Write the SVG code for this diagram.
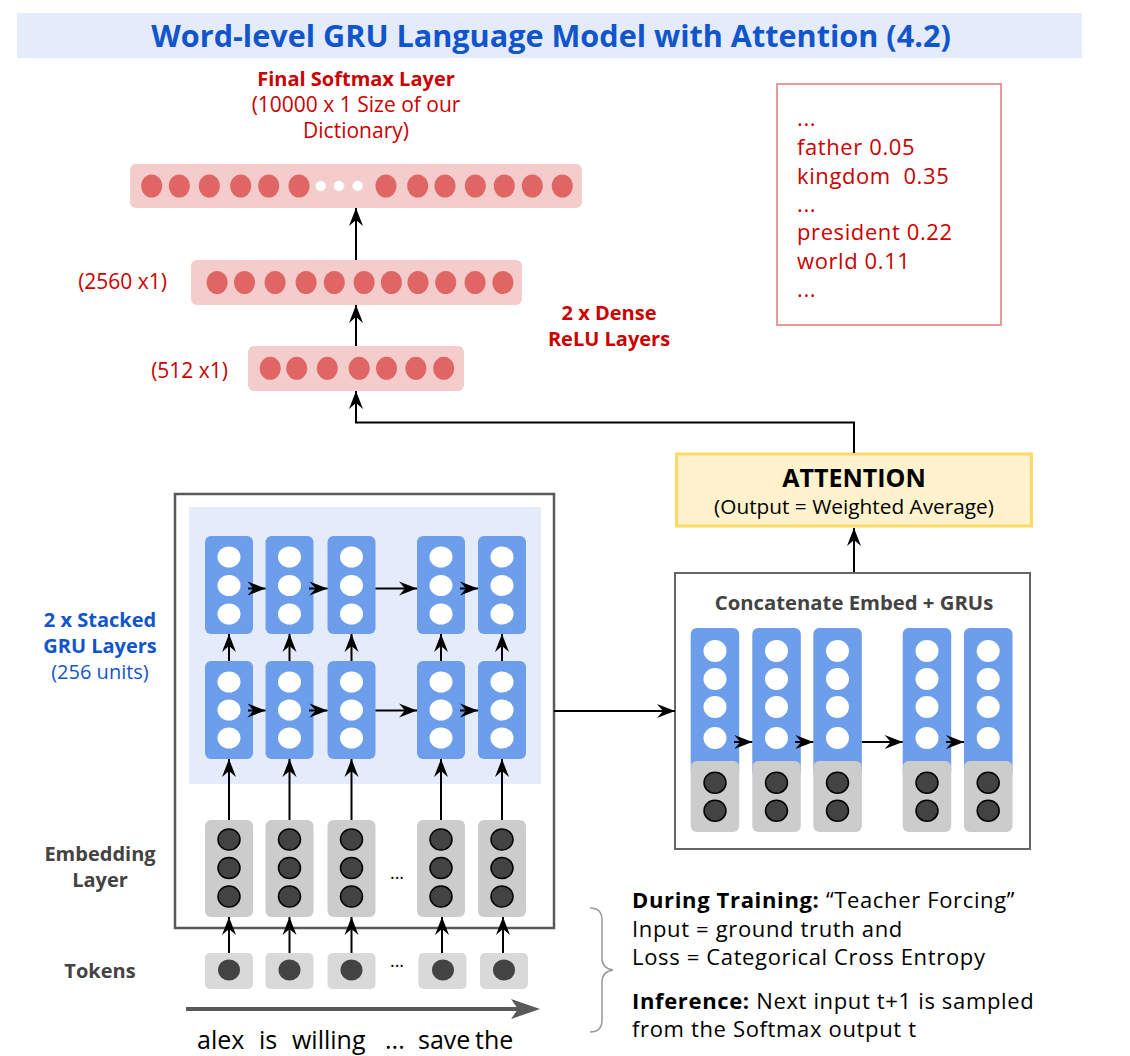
<svg xmlns="http://www.w3.org/2000/svg" width="1130" height="1056" viewBox="0 0 1130 1056">
<defs>
<style>
text{font-family:'Open Sans','Liberation Sans',sans-serif}
.red{fill:#cc0000}
.blue{fill:#1155cc}
.grey{fill:#434343}
.b{font-weight:bold}
.s20{font-size:20px}
.s21{font-size:21px}
.mid{text-anchor:middle}
.sm{fill:#e06666}
.smbg{fill:#f4cccc}
.gru{fill:#6d9eeb}
.wc{fill:#ffffff}
.emb{fill:#cccccc}
.tok{fill:#d9d9d9}
.dc{fill:#434343;stroke:#000;stroke-width:1.5}
.tc{fill:#434343}
.conn line,.conn polyline{stroke:#000;stroke-width:2;fill:none;marker-end:url(#ah)}
</style>
<marker id="ah" viewBox="-19 -8 20 16" refX="0" refY="0" markerWidth="20" markerHeight="16" orient="auto" markerUnits="userSpaceOnUse">
<path d="M0,0 L-18,-7 L-12,0 L-18,7 Z" fill="#000"/>
</marker>
</defs>
<rect width="1130" height="1056" fill="#ffffff"/>

<g id="title">
<rect x="17" y="13" width="1065" height="45" fill="#e4ecfc"/>
<text x="551" y="47" class="blue b mid" font-size="30.6">Word-level GRU Language Model with Attention (4.2)</text>
</g>

<g id="softmax-layer">
<text x="356" y="86" class="red b mid s20">Final Softmax Layer</text>
<text x="356" y="112" class="red mid s21">(10000 x 1 Size of our</text>
<text x="356" y="138" class="red mid s21">Dictionary)</text>
<rect x="130" y="164" width="452" height="44" rx="6" class="smbg"/>
<g class="sm">
<ellipse cx="151.7" cy="186" rx="10.5" ry="11.5"/>
<ellipse cx="179.3" cy="186" rx="10.5" ry="11.5"/>
<ellipse cx="209.3" cy="186" rx="10.5" ry="11.5"/>
<ellipse cx="240.7" cy="186" rx="10.5" ry="11.5"/>
<ellipse cx="268.7" cy="186" rx="10.5" ry="11.5"/>
<ellipse cx="299" cy="186" rx="10.5" ry="11.5"/>
<ellipse cx="386" cy="186" rx="10.5" ry="11.5"/>
<ellipse cx="417.7" cy="186" rx="10.5" ry="11.5"/>
<ellipse cx="445" cy="186" rx="10.5" ry="11.5"/>
<ellipse cx="475.3" cy="186" rx="10.5" ry="11.5"/>
<ellipse cx="504.3" cy="186" rx="10.5" ry="11.5"/>
<ellipse cx="532.3" cy="186" rx="10.5" ry="11.5"/>
<ellipse cx="562.3" cy="186" rx="10.5" ry="11.5"/>
</g>
<g fill="#ffffff" stroke="#f0f0f0" stroke-width="1">
<circle cx="320.7" cy="186" r="5"/>
<circle cx="339" cy="186" r="5"/>
<circle cx="357.7" cy="186" r="5"/>
</g>
</g>

<g id="dense-2560">
<text x="167" y="289" class="red s21" text-anchor="end">(2560 x1)</text>
<rect x="191" y="260" width="331" height="45" rx="6" class="smbg"/>
<g class="sm">
<ellipse cx="217.1" cy="282.5" rx="10.5" ry="11.5"/>
<ellipse cx="244.5" cy="282.5" rx="10.5" ry="11.5"/>
<ellipse cx="275.1" cy="282.5" rx="10.5" ry="11.5"/>
<ellipse cx="306.1" cy="282.5" rx="10.5" ry="11.5"/>
<ellipse cx="334.3" cy="282.5" rx="10.5" ry="11.5"/>
<ellipse cx="364.1" cy="282.5" rx="10.5" ry="11.5"/>
<ellipse cx="391.4" cy="282.5" rx="10.5" ry="11.5"/>
<ellipse cx="418" cy="282.5" rx="10.5" ry="11.5"/>
<ellipse cx="445.7" cy="282.5" rx="10.5" ry="11.5"/>
<ellipse cx="475.1" cy="282.5" rx="10.5" ry="11.5"/>
<ellipse cx="502.9" cy="282.5" rx="10.5" ry="11.5"/>
</g>
</g>

<g id="dense-512">
<text x="228" y="378" class="red s21" text-anchor="end">(512 x1)</text>
<rect x="248" y="346" width="216" height="45" rx="6" class="smbg"/>
<g class="sm">
<ellipse cx="270.2" cy="368.3" rx="10.5" ry="11.5"/>
<ellipse cx="296.7" cy="368.3" rx="10.5" ry="11.5"/>
<ellipse cx="327.3" cy="368.3" rx="10.5" ry="11.5"/>
<ellipse cx="359.2" cy="368.3" rx="10.5" ry="11.5"/>
<ellipse cx="386.5" cy="368.3" rx="10.5" ry="11.5"/>
<ellipse cx="415.9" cy="368.3" rx="10.5" ry="11.5"/>
<ellipse cx="443.7" cy="368.3" rx="10.5" ry="11.5"/>
</g>
</g>

<g id="dense-label">
<text x="609" y="320" class="red b mid s20">2 x Dense</text>
<text x="609" y="346" class="red b mid s20">ReLU Layers</text>
</g>

<g id="prob-box">
<rect x="777" y="84" width="224" height="241" fill="#ffffff" stroke="#ea9999" stroke-width="2"/>
<g class="red" font-size="22" letter-spacing="0.6">
<text x="797" y="126">...</text>
<text x="797" y="155">father 0.05</text>
<text x="797" y="183.5" xml:space="preserve">kingdom  0.35</text>
<text x="797" y="212">...</text>
<text x="797" y="240">president 0.22</text>
<text x="797" y="268.5">world 0.11</text>
<text x="797" y="297">...</text>
</g>
</g>

<g id="attention">
<rect x="676.5" y="454" width="355" height="72" fill="#fff2cc" stroke="#ffd966" stroke-width="3"/>
<text x="854" y="487" class="b mid" font-size="25" fill="#000">ATTENTION</text>
<text x="854" y="514" class="mid" font-size="20.8" fill="#000">(Output = Weighted Average)</text>
</g>

<g id="concat">
<rect x="675" y="573" width="355" height="276" fill="#ffffff" stroke="#666666" stroke-width="2"/>
<text x="854" y="610" class="grey b mid" font-size="20.3">Concatenate Embed + GRUs</text>
<g class="gru">
<rect x="690.7" y="628" width="48.5" height="150" rx="6"/>
<rect x="752.3" y="628" width="48.5" height="150" rx="6"/>
<rect x="813.3" y="628" width="48.5" height="150" rx="6"/>
<rect x="902.7" y="628" width="48.5" height="150" rx="6"/>
<rect x="964" y="628" width="48.5" height="150" rx="6"/>
</g>
<g class="emb">
<rect x="690.7" y="761" width="48.5" height="71" rx="6"/>
<rect x="752.3" y="761" width="48.5" height="71" rx="6"/>
<rect x="813.3" y="761" width="48.5" height="71" rx="6"/>
<rect x="902.7" y="761" width="48.5" height="71" rx="6"/>
<rect x="964" y="761" width="48.5" height="71" rx="6"/>
</g>
<g class="wc">
<ellipse cx="715" cy="651" rx="11.5" ry="11"/><ellipse cx="715" cy="679" rx="11.5" ry="11"/><ellipse cx="715" cy="707" rx="11.5" ry="11"/><ellipse cx="715" cy="738" rx="11.5" ry="11"/>
<ellipse cx="776.5" cy="651" rx="11.5" ry="11"/><ellipse cx="776.5" cy="679" rx="11.5" ry="11"/><ellipse cx="776.5" cy="707" rx="11.5" ry="11"/><ellipse cx="776.5" cy="738" rx="11.5" ry="11"/>
<ellipse cx="837.5" cy="651" rx="11.5" ry="11"/><ellipse cx="837.5" cy="679" rx="11.5" ry="11"/><ellipse cx="837.5" cy="707" rx="11.5" ry="11"/><ellipse cx="837.5" cy="738" rx="11.5" ry="11"/>
<ellipse cx="927" cy="651" rx="11.5" ry="11"/><ellipse cx="927" cy="679" rx="11.5" ry="11"/><ellipse cx="927" cy="707" rx="11.5" ry="11"/><ellipse cx="927" cy="738" rx="11.5" ry="11"/>
<ellipse cx="988.2" cy="651" rx="11.5" ry="11"/><ellipse cx="988.2" cy="679" rx="11.5" ry="11"/><ellipse cx="988.2" cy="707" rx="11.5" ry="11"/><ellipse cx="988.2" cy="738" rx="11.5" ry="11"/>
</g>
<g class="dc">
<ellipse cx="715" cy="782.7" rx="11" ry="10.5"/><ellipse cx="715" cy="810.7" rx="11" ry="10.5"/>
<ellipse cx="776.5" cy="782.7" rx="11" ry="10.5"/><ellipse cx="776.5" cy="810.7" rx="11" ry="10.5"/>
<ellipse cx="837.5" cy="782.7" rx="11" ry="10.5"/><ellipse cx="837.5" cy="810.7" rx="11" ry="10.5"/>
<ellipse cx="927" cy="782.7" rx="11" ry="10.5"/><ellipse cx="927" cy="810.7" rx="11" ry="10.5"/>
<ellipse cx="988.2" cy="782.7" rx="11" ry="10.5"/><ellipse cx="988.2" cy="810.7" rx="11" ry="10.5"/>
</g>
</g>

<g id="gru-stack">
<rect x="175" y="494" width="379" height="434" fill="#ffffff" stroke="#595959" stroke-width="2.5"/>
<rect x="189" y="507" width="352" height="277" fill="#e4ecfc"/>
<g class="gru">
<rect x="205" y="536" width="48" height="98" rx="6"/>
<rect x="265.5" y="536" width="48" height="98" rx="6"/>
<rect x="327.5" y="536" width="48" height="98" rx="6"/>
<rect x="417" y="536" width="48" height="98" rx="6"/>
<rect x="478" y="536" width="48" height="98" rx="6"/>
<rect x="205" y="661" width="48" height="98" rx="6"/>
<rect x="265.5" y="661" width="48" height="98" rx="6"/>
<rect x="327.5" y="661" width="48" height="98" rx="6"/>
<rect x="417" y="661" width="48" height="98" rx="6"/>
<rect x="478" y="661" width="48" height="98" rx="6"/>
</g>
<g class="wc">
<ellipse cx="229" cy="557" rx="11.5" ry="10.5"/><ellipse cx="229" cy="585.5" rx="11.5" ry="10.5"/><ellipse cx="229" cy="614" rx="11.5" ry="10.5"/>
<ellipse cx="289.5" cy="557" rx="11.5" ry="10.5"/><ellipse cx="289.5" cy="585.5" rx="11.5" ry="10.5"/><ellipse cx="289.5" cy="614" rx="11.5" ry="10.5"/>
<ellipse cx="351.5" cy="557" rx="11.5" ry="10.5"/><ellipse cx="351.5" cy="585.5" rx="11.5" ry="10.5"/><ellipse cx="351.5" cy="614" rx="11.5" ry="10.5"/>
<ellipse cx="441" cy="557" rx="11.5" ry="10.5"/><ellipse cx="441" cy="585.5" rx="11.5" ry="10.5"/><ellipse cx="441" cy="614" rx="11.5" ry="10.5"/>
<ellipse cx="502" cy="557" rx="11.5" ry="10.5"/><ellipse cx="502" cy="585.5" rx="11.5" ry="10.5"/><ellipse cx="502" cy="614" rx="11.5" ry="10.5"/>
<ellipse cx="229" cy="682" rx="11.5" ry="10.5"/><ellipse cx="229" cy="710" rx="11.5" ry="10.5"/><ellipse cx="229" cy="738" rx="11.5" ry="10.5"/>
<ellipse cx="289.5" cy="682" rx="11.5" ry="10.5"/><ellipse cx="289.5" cy="710" rx="11.5" ry="10.5"/><ellipse cx="289.5" cy="738" rx="11.5" ry="10.5"/>
<ellipse cx="351.5" cy="682" rx="11.5" ry="10.5"/><ellipse cx="351.5" cy="710" rx="11.5" ry="10.5"/><ellipse cx="351.5" cy="738" rx="11.5" ry="10.5"/>
<ellipse cx="441" cy="682" rx="11.5" ry="10.5"/><ellipse cx="441" cy="710" rx="11.5" ry="10.5"/><ellipse cx="441" cy="738" rx="11.5" ry="10.5"/>
<ellipse cx="502" cy="682" rx="11.5" ry="10.5"/><ellipse cx="502" cy="710" rx="11.5" ry="10.5"/><ellipse cx="502" cy="738" rx="11.5" ry="10.5"/>
</g>
</g>

<g id="embedding">
<g class="emb">
<rect x="205" y="820" width="48" height="97" rx="6"/>
<rect x="265.5" y="820" width="48" height="97" rx="6"/>
<rect x="327.5" y="820" width="48" height="97" rx="6"/>
<rect x="417" y="820" width="48" height="97" rx="6"/>
<rect x="478" y="820" width="48" height="97" rx="6"/>
</g>
<g class="dc">
<ellipse cx="229" cy="839.5" rx="11" ry="10.5"/><ellipse cx="229" cy="868" rx="11" ry="10.5"/><ellipse cx="229" cy="896.5" rx="11" ry="10.5"/>
<ellipse cx="289.5" cy="839.5" rx="11" ry="10.5"/><ellipse cx="289.5" cy="868" rx="11" ry="10.5"/><ellipse cx="289.5" cy="896.5" rx="11" ry="10.5"/>
<ellipse cx="351.5" cy="839.5" rx="11" ry="10.5"/><ellipse cx="351.5" cy="868" rx="11" ry="10.5"/><ellipse cx="351.5" cy="896.5" rx="11" ry="10.5"/>
<ellipse cx="441" cy="839.5" rx="11" ry="10.5"/><ellipse cx="441" cy="868" rx="11" ry="10.5"/><ellipse cx="441" cy="896.5" rx="11" ry="10.5"/>
<ellipse cx="502" cy="839.5" rx="11" ry="10.5"/><ellipse cx="502" cy="868" rx="11" ry="10.5"/><ellipse cx="502" cy="896.5" rx="11" ry="10.5"/>
</g>
<text x="397" y="879" class="mid" font-size="18" fill="#000">...</text>
</g>

<g id="tokens">
<g class="tok">
<rect x="205" y="953" width="48" height="36" rx="5"/>
<rect x="265.5" y="953" width="48" height="36" rx="5"/>
<rect x="327.5" y="953" width="48" height="36" rx="5"/>
<rect x="418.5" y="953" width="48" height="36" rx="5"/>
<rect x="480" y="953" width="48" height="36" rx="5"/>
</g>
<g class="tc">
<ellipse cx="229" cy="970" rx="11" ry="10.5"/>
<ellipse cx="289.5" cy="970" rx="11" ry="10.5"/>
<ellipse cx="351.5" cy="970" rx="11" ry="10.5"/>
<ellipse cx="443" cy="970" rx="11" ry="10.5"/>
<ellipse cx="504" cy="970" rx="11" ry="10.5"/>
</g>
<text x="397" y="967" class="mid" font-size="18" fill="#000">...</text>
</g>

<g id="side-labels">
<text x="100" y="627" class="blue b mid s20">2 x Stacked</text>
<text x="100" y="653" class="blue b mid s20">GRU Layers</text>
<text x="100" y="679" class="blue mid s20">(256 units)</text>
<text x="100" y="861" class="grey b mid s20">Embedding</text>
<text x="100" y="887" class="grey b mid s20">Layer</text>
<text x="100" y="978" class="grey b mid s20">Tokens</text>
</g>

<g id="sequence">
<line x1="186" y1="1009" x2="522" y2="1009" stroke="#595959" stroke-width="4"/>
<path d="M540,1009 L511,999 L518,1009 L511,1019 Z" fill="#595959"/>
<text y="1049" font-size="25" fill="#000"><tspan x="197">alex</tspan><tspan x="259">is</tspan><tspan x="292">willing</tspan><tspan x="385">...</tspan><tspan x="418">save</tspan><tspan x="475">the</tspan></text>
</g>

<g id="notes">
<path d="M590,908 C598,908 602,912 602,920 L602,958 C602,965 606,969 613,970 C606,971 602,975 602,982 L602,1020 C602,1028 598,1032 590,1032" fill="none" stroke="#999999" stroke-width="1.5"/>
<g font-size="22" fill="#000" letter-spacing="0.65">
<text x="632" y="908"><tspan font-weight="bold">During Training:</tspan> “Teacher Forcing”</text>
<text x="632" y="937">Input = ground truth and</text>
<text x="632" y="965">Loss = Categorical Cross Entropy</text>
<text x="632" y="1009"><tspan font-weight="bold">Inference:</tspan> Next input t+1 is sampled</text>
<text x="632" y="1037">from the Softmax output t</text>
</g>
</g>

<g id="connectors" class="conn">
<line x1="356" y1="260" x2="356" y2="208"/>
<line x1="356" y1="346" x2="356" y2="305"/>
<polyline points="854,453 854,422.5 356,422.5 356,391"/>
<line x1="854" y1="572" x2="854" y2="528"/>
<line x1="554" y1="711" x2="675" y2="711"/>
<line x1="229" y1="661" x2="229" y2="634"/>
<line x1="289.5" y1="661" x2="289.5" y2="634"/>
<line x1="351.5" y1="661" x2="351.5" y2="634"/>
<line x1="441" y1="661" x2="441" y2="634"/>
<line x1="502" y1="661" x2="502" y2="634"/>
<line x1="229" y1="820" x2="229" y2="759"/>
<line x1="289.5" y1="820" x2="289.5" y2="759"/>
<line x1="351.5" y1="820" x2="351.5" y2="759"/>
<line x1="441" y1="820" x2="441" y2="759"/>
<line x1="502" y1="820" x2="502" y2="759"/>
<line x1="229" y1="953" x2="229" y2="917"/>
<line x1="289.5" y1="953" x2="289.5" y2="917"/>
<line x1="351.5" y1="953" x2="351.5" y2="917"/>
<line x1="442" y1="953" x2="442" y2="917"/>
<line x1="503" y1="953" x2="503" y2="917"/>
<line x1="248" y1="588.5" x2="265.5" y2="588.5"/>
<line x1="309" y1="588.5" x2="327.5" y2="588.5"/>
<line x1="375.5" y1="588.5" x2="417" y2="588.5"/>
<line x1="460" y1="588.5" x2="478" y2="588.5"/>
<line x1="248" y1="710.5" x2="265.5" y2="710.5"/>
<line x1="309" y1="710.5" x2="327.5" y2="710.5"/>
<line x1="375.5" y1="710.5" x2="417" y2="710.5"/>
<line x1="460" y1="710.5" x2="478" y2="710.5"/>
<line x1="734" y1="742" x2="752.3" y2="742"/>
<line x1="795" y1="742" x2="813.3" y2="742"/>
<line x1="861.8" y1="742" x2="902.7" y2="742"/>
<line x1="946" y1="742" x2="964" y2="742"/>
</g>
</svg>
